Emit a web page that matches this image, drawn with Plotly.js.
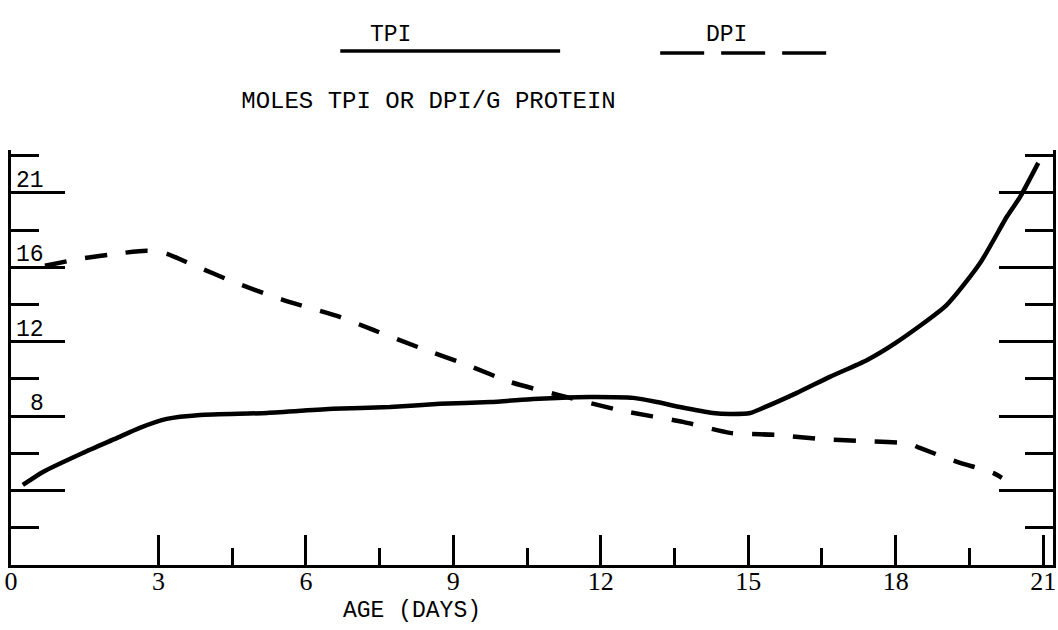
<!DOCTYPE html>
<html>
<head>
<meta charset="utf-8">
<script src="https://cdn.plot.ly/plotly-3.0.1.min.js"></script>
<style>
  html, body { margin: 0; padding: 0; background: #fff; }
  #chart { width: 1058px; height: 630px; }
</style>
</head>
<body>
<div id="chart"></div>
<script>
// Age in days and moles per gram of protein for each curve
const dayTPI = [0.24, 0.65, 1.46, 2.16, 2.62, 3.17, 3.85, 5.21, 6.55, 7.71, 8.73, 9.75, 10.62, 11.11, 11.78, 12.66, 13.14, 13.61, 14.28, 14.63, 15.04, 15.30, 15.99, 16.66, 17.42, 18.03, 19.04, 19.72, 20.26, 20.53, 20.90];
const tpi    = [4.30, 5.00, 6.02, 6.83, 7.37, 7.85, 8.06, 8.17, 8.39, 8.49, 8.66, 8.76, 8.92, 8.98, 9.03, 8.98, 8.76, 8.49, 8.17, 8.12, 8.17, 8.44, 9.25, 10.11, 11.02, 11.99, 13.98, 16.24, 18.71, 19.78, 21.61];

const dayDPI = [0.69, 1.40, 2.28, 2.77, 3.17, 3.70, 4.52, 5.53, 6.69, 7.37, 8.32, 9.28, 10.15, 11.13, 12.45, 13.67, 14.63, 15.58, 16.46, 17.27, 18.29, 18.49, 19.25, 19.98, 20.16];
const dpi    = [16.08, 16.45, 16.77, 16.88, 16.72, 16.13, 15.22, 14.25, 13.33, 12.63, 11.67, 10.75, 9.84, 9.14, 8.28, 7.69, 7.10, 6.99, 6.77, 6.67, 6.51, 6.29, 5.54, 4.95, 4.68];

// Axis ticks and labels
const xTickVals   = [0, 3, 6, 9, 12, 15, 18, 21];
const xMinorVals  = [4.5, 7.5, 10.5, 13.5, 16.5, 19.5];
const yLabelVals  = [8, 12, 16, 20];
const yLabelText  = ['8', '12', '16', '21'];

const seriesNames = ['TPI', 'DPI'];
const typeFont = 'Liberation Mono, Courier New, monospace';

const traces = [
  {
    x: dayTPI, y: tpi, name: seriesNames[0], type: 'scatter', mode: 'lines',
    line: { color: '#000', width: 4.5, shape: 'spline', smoothing: 0.6 },
    hoverinfo: 'skip'
  },
  {
    x: dayDPI, y: dpi, name: seriesNames[1], type: 'scatter', mode: 'lines',
    line: { color: '#000', width: 4.5, shape: 'spline', smoothing: 0.6, dash: '22px,19px' },
    hoverinfo: 'skip'
  }
];

// y-axis numbers sit just above their long ticks, inside the frame
const yLabels = yLabelVals.map((v, i) => ({
  xref: 'paper', yref: 'y', x: 0.034, y: v, yshift: -3,
  xanchor: 'right', yanchor: 'bottom', showarrow: false,
  text: yLabelText[i], font: { family: typeFont, size: 23, color: '#000' }
}));

const layout = {
  width: 1058, height: 630,
  margin: { l: 11, r: 5, t: 150, b: 65 },
  paper_bgcolor: '#fff', plot_bgcolor: '#fff',
  showlegend: false,
  title: {
    text: 'MOLES TPI OR DPI/G PROTEIN',
    x: 0.405, xref: 'container', xanchor: 'center',
    y: 1 - 100 / 630, yref: 'container', yanchor: 'middle',
    font: { family: typeFont, size: 24, color: '#000' }
  },
  xaxis: {
    range: [0, 21.2], showgrid: false, zeroline: false,
    showline: true, linecolor: '#000', linewidth: 3,
    tickmode: 'array', tickvals: xTickVals,
    ticks: 'inside', ticklen: 30, tickwidth: 3, tickcolor: '#000',
    ticklabelstandoff: -9,
    minor: { tickmode: 'array', tickvals: xMinorVals, ticks: 'inside', ticklen: 17, tickwidth: 3, tickcolor: '#000', showgrid: false },
    tickfont: { family: 'Liberation Serif, Times New Roman, serif', size: 26, color: '#000' }
  },
  yaxis: {
    range: [0, 22.3], showgrid: false, zeroline: false,
    showline: true, mirror: 'ticks', linecolor: '#000', linewidth: 3,
    tick0: 0, dtick: 4,
    ticks: 'inside', ticklen: 54, tickwidth: 3, tickcolor: '#000',
    minor: { tick0: 0, dtick: 2, ticks: 'inside', ticklen: 28, tickwidth: 3, tickcolor: '#000', showgrid: false },
    showticklabels: false
  },
  shapes: [
    // legend keys
    { type: 'line', xref: 'paper', yref: 'paper', x0: 0.316, x1: 0.527, y0: 1.2386, y1: 1.2386,
      line: { color: '#000', width: 3.5 } },
    { type: 'line', xref: 'paper', yref: 'paper', x0: 0.623, x1: 0.786, y0: 1.234, y1: 1.234,
      line: { color: '#000', width: 3.5, dash: '44px,17px' } }
  ],
  annotations: [
    { xref: 'paper', yref: 'paper', x: 0.364, y: 1.313, showarrow: false,
      text: seriesNames[0], font: { family: typeFont, size: 23, color: '#000' } },
    { xref: 'paper', yref: 'paper', x: 0.708, y: 1.313, showarrow: false,
      text: seriesNames[1], font: { family: typeFont, size: 23, color: '#000' } },
    { xref: 'paper', yref: 'paper', x: 0.385, y: -0.11, yanchor: 'middle', showarrow: false,
      text: 'AGE (DAYS)', font: { family: typeFont, size: 23, color: '#000' } }
  ].concat(yLabels)
};

Plotly.newPlot('chart', traces, layout, { displayModeBar: false, staticPlot: true });
</script>
</body>
</html>
